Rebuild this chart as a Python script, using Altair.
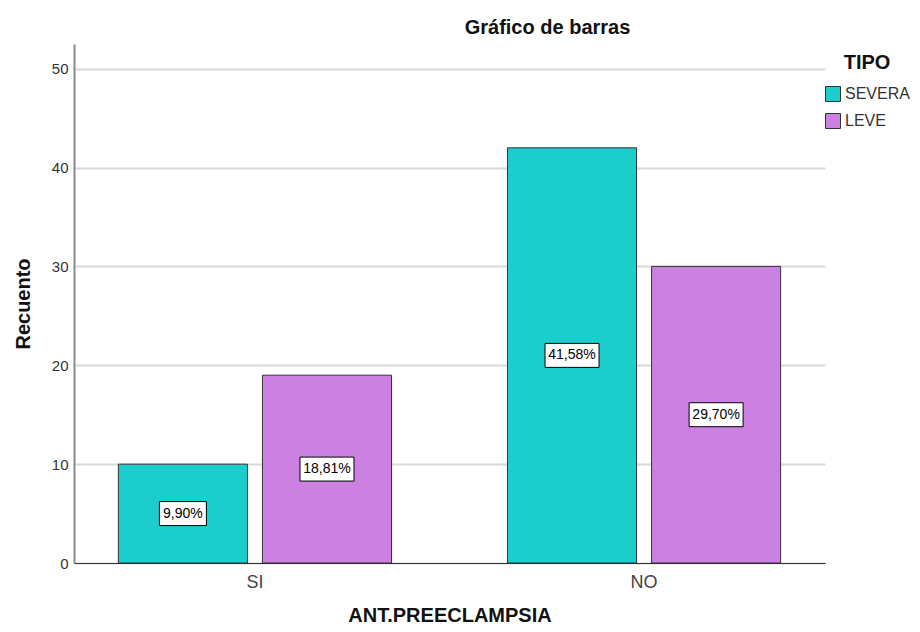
import altair as alt
import pandas as pd

# ---- data ----
grupos = ["SI", "SI", "NO", "NO"]
tipos = ["SEVERA", "LEVE", "SEVERA", "LEVE"]
recuentos = [10, 19, 42, 30]
porcentajes = ["9,90%", "18,81%", "41,58%", "29,70%"]
orden_grupos = ["SI", "NO"]
orden_tipos = ["SEVERA", "LEVE"]
colores = ["#1ccdcd", "#cc80e2"]
ticks_y = [0, 10, 20, 30, 40, 50]

df = pd.DataFrame({"ant": grupos, "tipo": tipos, "n": recuentos, "pct": porcentajes})

FONT = "Liberation Sans"

x_enc = alt.X(
    "ant:N",
    sort=orden_grupos,
    scale=alt.Scale(paddingInner=0.298, paddingOuter=0.114),
    axis=alt.Axis(
        title="ANT.PREECLAMPSIA",
        labelAngle=0,
        labelFontSize=18,
        labelColor="#444444",
        labelPadding=10,
        labelFont=FONT,
        ticks=False,
        domainColor="#333333",
        domainWidth=1,
        titleFontSize=20,
        titleFont=FONT,
        titleFontWeight="bold",
        titleColor="#111111",
        titlePadding=14,
        grid=False,
    ),
)
xoff_enc = alt.XOffset(
    "tipo:N", sort=orden_tipos, scale=alt.Scale(paddingInner=0.104, paddingOuter=0)
)
y_scale = alt.Scale(domain=[0, 52.5], nice=False)

bars = alt.Chart(df).mark_bar(stroke="#333333", strokeWidth=1).encode(
    x=x_enc,
    xOffset=xoff_enc,
    y=alt.Y(
        "n:Q",
        scale=y_scale,
        axis=alt.Axis(
            title="Recuento",
            values=ticks_y,
            ticks=False,
            labelFontSize=15,
            labelColor="#333333",
            labelFont=FONT,
            labelPadding=6,
            domainColor="#8a8a8a",
            domainWidth=2,
            grid=True,
            gridColor="#d9d9d9",
            gridWidth=2,
            titleFontSize=20,
            titleFont=FONT,
            titleFontWeight="bold",
            titleColor="#111111",
            titlePadding=18,
        ),
    ),
    color=alt.Color(
        "tipo:N",
        scale=alt.Scale(domain=orden_tipos, range=colores),
        legend=alt.Legend(
            title="TIPO",
            orient="none",
            legendX=751,
            legendY=9,
            titleAnchor="middle",
            titleFontSize=20,
            titleFont=FONT,
            titleFontWeight="bold",
            titleColor="#111111",
            titlePadding=13,
            symbolType="square",
            symbolSize=225,
            symbolStrokeColor="#333333",
            symbolStrokeWidth=1,
            labelFontSize=16,
            labelFont=FONT,
            labelColor="#333333",
            labelOffset=4,
            rowPadding=7,
        ),
    ),
)

BOX6 = "M-1,-0.444L1,-0.444L1,0.444L-1,0.444Z"
BOX5 = "M-0.87,-0.444L0.87,-0.444L0.87,0.444L-0.87,0.444Z"

base_lbl = alt.Chart(df).transform_calculate(
    mid="datum.n / 2",
    box=f"length(datum.pct) > 5 ? '{BOX6}' : '{BOX5}'",
)

boxes = base_lbl.mark_point(
    filled=True, fill="white", stroke="black", strokeWidth=1, size=2916, opacity=1
).encode(
    x=x_enc,
    xOffset=xoff_enc,
    y=alt.Y("mid:Q", scale=y_scale),
    shape=alt.Shape("box:N", scale=None, legend=None),
)

texts = base_lbl.mark_text(
    font=FONT, fontSize=14, color="black", baseline="middle", align="center"
).encode(
    x=x_enc,
    xOffset=xoff_enc,
    y=alt.Y("mid:Q", scale=y_scale),
    text="pct:N",
)

chart = (
    alt.layer(bars, boxes, texts)
    .properties(
        width=751,
        height=519,
        autosize=alt.AutoSizeParams(type="none"),
        padding={"left": 66, "top": 36, "right": 87, "bottom": 61},
        view=alt.ViewBackground(stroke="transparent", strokeWidth=0),
        title=alt.TitleParams(
            "Gráfico de barras",
            fontSize=20,
            font=FONT,
            fontWeight="bold",
            color="#111111",
            anchor="middle",
            dx=98,
            offset=6,
        ),
    )
    .configure_view(strokeWidth=0, stroke="transparent")
    .configure(background="white")
)

chart.save("out.html", embed_options={"renderer": "svg", "actions": False})
